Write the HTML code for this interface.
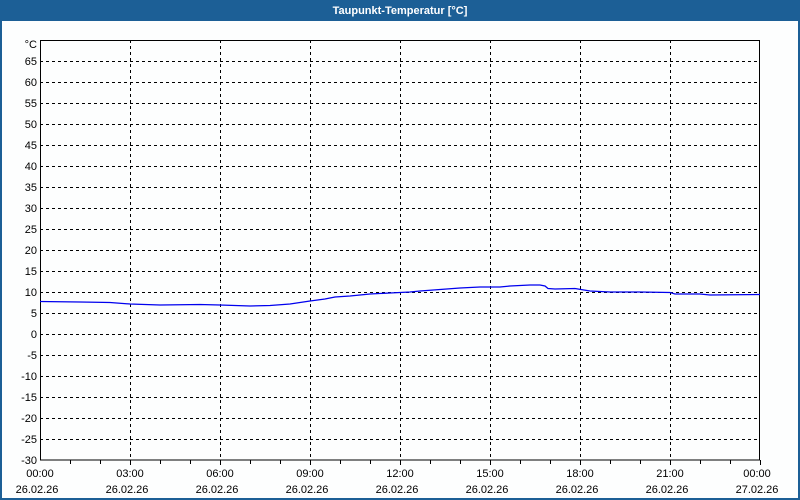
<!DOCTYPE html>
<html><head><meta charset="utf-8"><style>
html,body{margin:0;padding:0;background:#fff}
svg{display:block;font-family:"Liberation Sans","DejaVu Sans",sans-serif}
</style></head><body>
<svg width="800" height="500" viewBox="0 0 800 500" xmlns="http://www.w3.org/2000/svg">
<rect x="0" y="0" width="800" height="500" fill="#fdfefe"/>
<rect x="0" y="0" width="800" height="21" fill="#1c5f96"/>
<rect x="0.5" y="0.5" width="799" height="499" fill="none" stroke="#1c5f96" stroke-width="1"/>
<rect x="0" y="0" width="2" height="500" fill="#1c5f96"/>
<rect x="798" y="0" width="2" height="500" fill="#1c5f96"/>
<rect x="0" y="498" width="800" height="2" fill="#1c5f96"/>
<text x="400" y="14" text-anchor="middle" font-size="11" font-weight="bold" fill="#fff">Taupunkt-Temperatur [°C]</text>
<g stroke="#000" stroke-width="1" stroke-dasharray="3,3" fill="none">
<path d="M40 61.5H760M40 82.5H760M40 103.5H760M40 124.5H760M40 145.5H760M40 166.5H760M40 187.5H760M40 208.5H760M40 229.5H760M40 250.5H760M40 271.5H760M40 292.5H760M40 313.5H760M40 334.5H760M40 355.5H760M40 376.5H760M40 397.5H760M40 418.5H760M40 439.5H760"/>
<path d="M130.5 40V460M220.5 40V460M310.5 40V460M400.5 40V460M490.5 40V460M580.5 40V460M670.5 40V460"/>
</g>
<rect x="40.5" y="40.5" width="719" height="419.5" fill="none" stroke="#000"/>
<g stroke="#000"><path d="M70.5 460v4M100.5 460v4M130.5 460v5M160.5 460v4M190.5 460v4M220.5 460v5M250.5 460v4M280.5 460v4M310.5 460v5M340.5 460v4M370.5 460v4M400.5 460v5M430.5 460v4M460.5 460v4M490.5 460v5M520.5 460v4M550.5 460v4M580.5 460v5M610.5 460v4M640.5 460v4M670.5 460v5M700.5 460v4M730.5 460v4M760.5 460v5"/></g>
<polyline fill="none" stroke="#0000ee" stroke-width="1.3" points="40,301.5 80,302 110,302.5 130,304 160,305 200,304.5 220,305 250,306 270,305.5 290,304 310,301 325,299 335,297 350,296 370,294 390,293 410,292 420,291 440,289.5 460,288 480,287 500,287 510,286 530,285 540,285 545,286 548,288.5 555,289 575,288.5 590,291 610,292 640,292 670,292.5 675,294 700,294 710,295 760,294.5"/>
<g font-size="11" fill="#000" text-anchor="end">
<text x="37" y="48">°C</text>
<text x="37" y="65">65</text><text x="37" y="86">60</text><text x="37" y="107">55</text><text x="37" y="128">50</text><text x="37" y="149">45</text><text x="37" y="170">40</text><text x="37" y="191">35</text><text x="37" y="212">30</text><text x="37" y="233">25</text><text x="37" y="254">20</text><text x="37" y="275">15</text><text x="37" y="296">10</text><text x="37" y="317">5</text><text x="37" y="338">0</text><text x="37" y="359">-5</text><text x="37" y="380">-10</text><text x="37" y="401">-15</text><text x="37" y="422">-20</text><text x="37" y="443">-25</text><text x="37" y="464">-30</text>
</g>
<g font-size="11" fill="#000" text-anchor="middle">
<text x="40" y="477">00:00</text><text x="130" y="477">03:00</text><text x="220" y="477">06:00</text><text x="310" y="477">09:00</text><text x="400" y="477">12:00</text><text x="490" y="477">15:00</text><text x="580" y="477">18:00</text><text x="670" y="477">21:00</text><text x="757" y="477">00:00</text>
<text x="37" y="493">26.02.26</text><text x="127" y="493">26.02.26</text><text x="217" y="493">26.02.26</text><text x="307" y="493">26.02.26</text><text x="397" y="493">26.02.26</text><text x="487" y="493">26.02.26</text><text x="577" y="493">26.02.26</text><text x="667" y="493">26.02.26</text><text x="757" y="493">27.02.26</text>
</g>
</svg>
</body></html>
